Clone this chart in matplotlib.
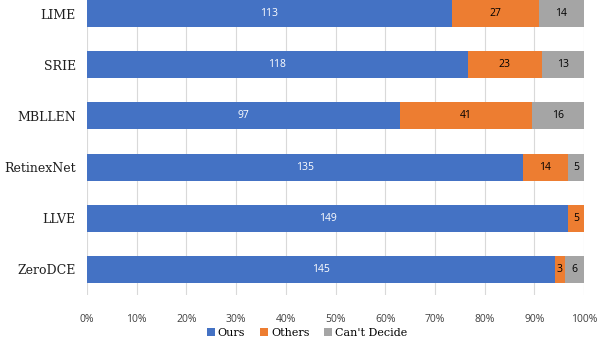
import numpy as np
import matplotlib.pyplot as plt

categories = ["LIME", "SRIE", "MBLLEN", "RetinexNet", "LLVE", "ZeroDCE"]
ours = [113, 118, 97, 135, 149, 145]
others = [27, 23, 41, 14, 5, 3]
cant_decide = [14, 13, 16, 5, 0, 6]

series = [("Ours", ours, "#4472C4", "white"),
          ("Others", others, "#ED7D31", "black"),
          ("Can't Decide", cant_decide, "#A5A5A5", "black")]

fig = plt.figure(figsize=(5.98, 3.38), dpi=100)
W, H = 598, 338
ax = fig.add_axes([87 / W, (H - 295) / H, (584 - 87) / W, (295 + 12) / H])

totals = np.array(ours) + np.array(others) + np.array(cant_decide)
y = np.arange(len(categories))
left = np.zeros(len(categories))
handles = []
for name, vals, color, tcolor in series:
    pct = np.array(vals) / totals
    bars = ax.barh(y, pct, left=left, height=0.53, color=color, label=name, zorder=3)
    handles.append(bars)
    for yi, (v, p, l) in enumerate(zip(vals, pct, left)):
        if v > 0:
            ax.text(l + p / 2, yi, str(v), ha="center", va="center",
                    color=tcolor, fontsize=7.5, family="Open Sans", zorder=4)
    left += pct

ax.set_ylim(len(categories) - 0.5, -0.5)
ax.set_xlim(0, 1)
ax.set_xticks(np.arange(0, 1.01, 0.1))
ax.set_xticklabels([f"{int(round(t * 100))}%" for t in np.arange(0, 1.01, 0.1)],
                   family="Open Sans", fontsize=7.5, color="#404040")
ax.set_yticks(y)
ax.set_yticklabels(categories, family="DejaVu Serif", fontsize=9, color="#202020")
ax.tick_params(axis="y", length=0, pad=8)
ax.tick_params(axis="x", length=0, pad=14)
ax.grid(axis="x", color="#d9d9d9", linewidth=0.8, zorder=0)
for s in ax.spines.values():
    s.set_visible(False)

fig.legend(handles=handles, loc="center", bbox_to_anchor=(307 / W, 1 - 333 / H),
           ncol=3, frameon=False, handlelength=0.7, handleheight=0.7,
           handletextpad=0.3, columnspacing=1.3, borderpad=0,
           prop={"family": "DejaVu Serif", "size": 8})

fig.savefig("out.png", dpi=100)
